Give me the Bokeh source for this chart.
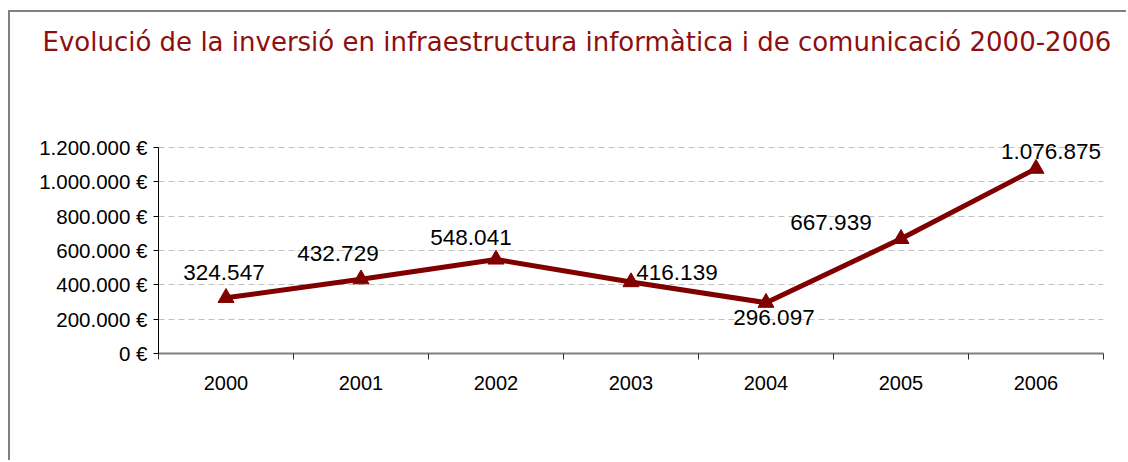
import numpy as np
from bokeh.plotting import figure
from bokeh.models import (ColumnDataSource, Range1d, FixedTicker, LabelSet, Title)
from bokeh.core.properties import value
from bokeh.embed import file_html
from bokeh.resources import INLINE

# ---- data ----
years = ["2000", "2001", "2002", "2003", "2004", "2005", "2006"]
investment = [324547, 432729, 548041, 416139, 296097, 667939, 1076875]
value_labels = ["324.547", "432.729", "548.041", "416.139", "296.097", "667.939", "1.076.875"]
y_ticks = [0, 200000, 400000, 600000, 800000, 1000000, 1200000]
y_tick_labels = ["0 €", "200.000 €", "400.000 €", "600.000 €", "800.000 €", "1.000.000 €", "1.200.000 €"]
title_text = "Evolució de la inversió en infraestructura informàtica i de comunicació 2000-2006"

# label placement (pixel offsets, layout only; dy positive = up)
label_dx = [-2, -23, -25, 46, 8, -70, 15]
label_dy = [25, 26, 22, 10, -15, 16, 17]

DARK_RED = "#800000"
TITLE_RED = "#8e0f0f"

# axis area: 1.2M occupies 206 px; 20 px headroom above it keeps labels unclipped
AXIS_PX = 206
HEADROOM_PX = 20
y_max = y_ticks[-1]
y_end = y_max * (AXIS_PX + HEADROOM_PX) / AXIS_PX

xpos = [i + 0.5 for i in range(len(years))]
src = ColumnDataSource(dict(x=xpos, y=investment, lab=value_labels,
                            dx=label_dx, dy=label_dy))

p = figure(width=1118, height=450, output_backend="svg", toolbar_location=None,
           x_range=Range1d(0, len(years)), y_range=Range1d(0, y_end),
           min_border_left=148, min_border_right=25, min_border_top=135 - HEADROOM_PX,
           min_border_bottom=109)
p.styles = {"border-left": "2px solid #808080", "border-top": "2px solid #808080",
            "margin-top": "10px", "margin-left": "8px"}
p.outline_line_color = None
p.background_fill_color = "white"
p.border_fill_color = "white"
p.title.text = ""

# spacer between frame and title (nearest to frame), then the title itself
spacer = Title(text=" ", text_font="DejaVu Sans", text_font_size="26px",
               vertical_align="bottom", standoff=39)
p.add_layout(spacer, "above")
main_title = Title(text=title_text, align="left", vertical_align="bottom",
                   offset=-116, standoff=0, text_font="DejaVu Sans",
                   text_font_size="26px", text_font_style="normal",
                   text_color=TITLE_RED)
p.add_layout(main_title, "above")

# grid
p.xgrid.visible = False
p.ygrid.ticker = FixedTicker(ticks=y_ticks)
p.ygrid.grid_line_color = "#c0c0c0"
p.ygrid.grid_line_dash = "6 4"
p.ygrid.grid_line_width = 1

# x axis
xa = p.xaxis[0]
xa.ticker = FixedTicker(ticks=xpos, minor_ticks=list(range(len(years) + 1)))
xa.major_label_overrides = {x: y for x, y in zip(xpos, years)}
xa.major_tick_out = 0
xa.major_tick_in = 0
xa.minor_tick_out = 6
xa.minor_tick_in = 0
xa.minor_tick_line_color = "#303030"
xa.axis_line_color = "#808080"
xa.axis_line_width = 2
xa.major_label_text_font = "Liberation Sans"
xa.major_label_text_font_size = "20px"
xa.major_label_text_color = "black"
xa.major_label_standoff = 16

# y axis
ya = p.yaxis[0]
ya.ticker = FixedTicker(ticks=y_ticks)
ya.bounds = (0, y_max)
ya.major_label_overrides = {t: l for t, l in zip(y_ticks, y_tick_labels)}
ya.major_tick_out = 5
ya.major_tick_in = 0
ya.minor_tick_out = 0
ya.minor_tick_in = 0
ya.axis_line_color = "black"
ya.major_tick_line_color = "black"
ya.major_label_text_font = "Liberation Sans"
ya.major_label_text_font_size = "20.5px"
ya.major_label_text_color = "black"
ya.major_label_standoff = 6

# series
p.line("x", "y", source=src, line_color=DARK_RED, line_width=5)
p.scatter("x", "y", source=src, marker="triangle", size=16,
          fill_color=DARK_RED, line_color=DARK_RED)
labels = LabelSet(x="x", y="y", text="lab", source=src, x_offset="dx", y_offset="dy",
                  text_align="center", text_baseline="middle",
                  text_font=value("Liberation Sans"), text_font_size="22.5px",
                  text_color="black")
p.add_layout(labels)

open("out.html", "w").write(file_html(p, INLINE))
